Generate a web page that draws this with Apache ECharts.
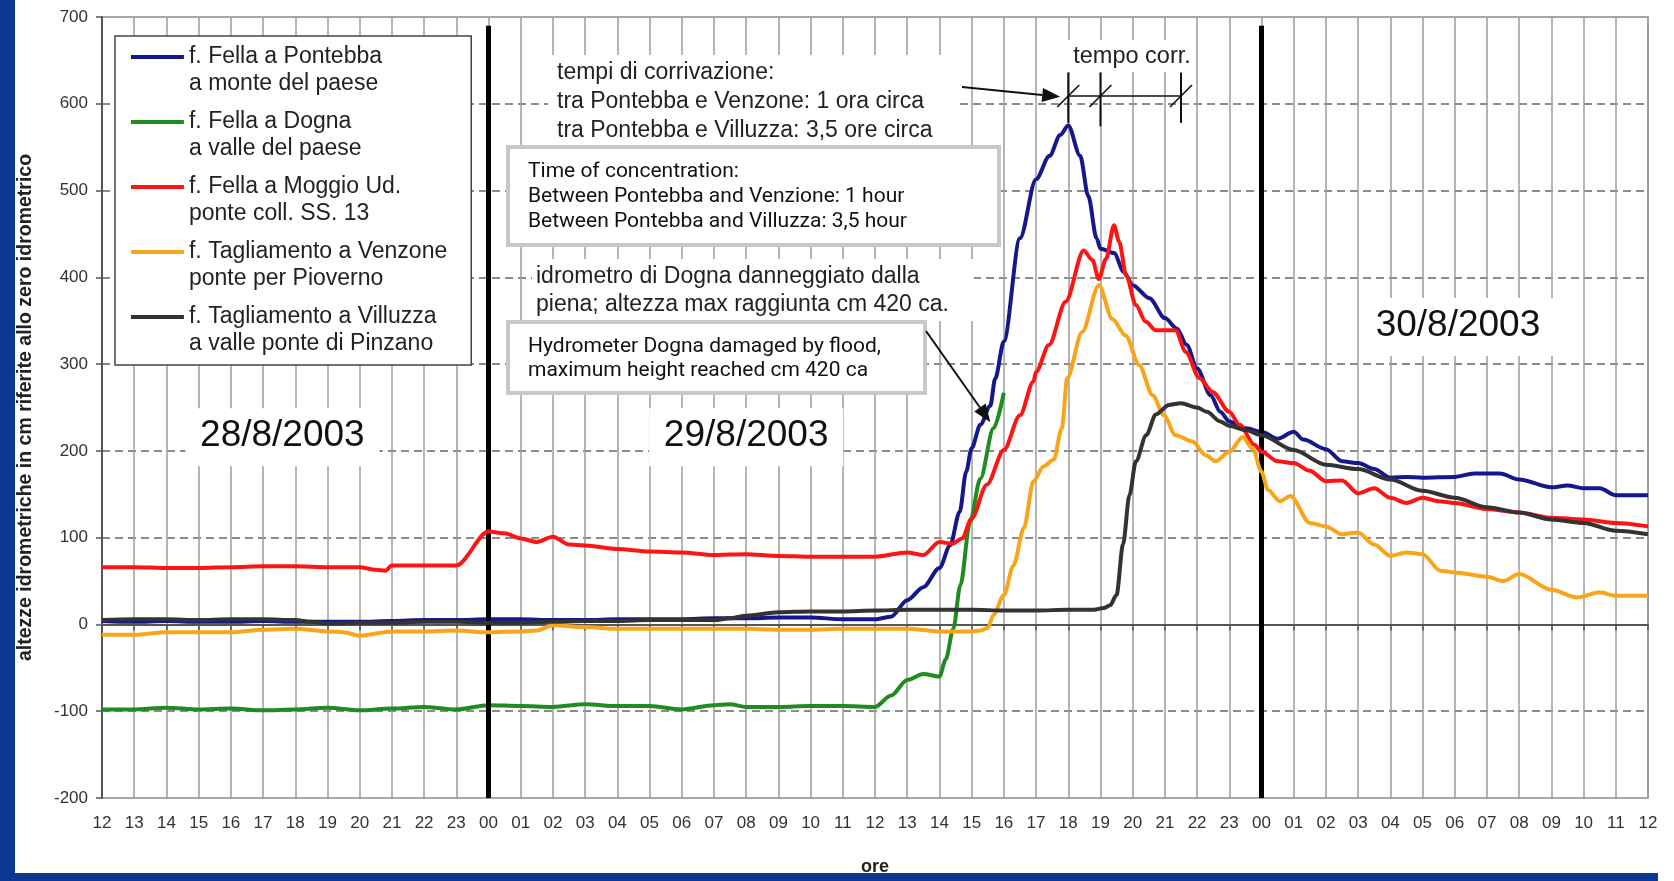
<!DOCTYPE html>
<html>
<head>
<meta charset="utf-8">
<script src="https://cdn.jsdelivr.net/npm/echarts@6/dist/echarts.min.js"></script>
<style>
html,body{margin:0;padding:0;background:#fff;}
#c{width:1674px;height:881px;}
</style>
</head>
<body>
<div id="c"></div>
<script>
// ---------- tick labels (hours, from 12:00 of 28/8 to 12:00 of 30/8) ----------
const hourLabels = ['12','13','14','15','16','17','18','19','20','21','22','23',
  '00','01','02','03','04','05','06','07','08','09','10','11',
  '12','13','14','15','16','17','18','19','20','21','22','23',
  '00','01','02','03','04','05','06','07','08','09','10','11','12'];

const seriesNames = [
  'f. Fella a Pontebba\na monte del paese',
  'f. Fella a Dogna\na valle del paese',
  'f. Fella a Moggio Ud.\nponte coll. SS. 13',
  'f. Tagliamento a Venzone\nponte per Pioverno',
  'f. Tagliamento a Villuzza\na valle ponte di Pinzano'
];

// ---------- series values: [hour since 12:00 28/8, height cm] ----------
const pontebba = [[0,4],[1,3],[2,4],[3,3],[4,3],[5,4],[6,3],[7,3],[8,3],[9,4],[10,5],[11,5],[12,6],[13,6],[14,5],[15,5],[16,6],[17,6],[18,6],[19,7],[20,7],[21,8],[22,8],[23,6],[24,6],[24.5,9],[25,28],[25.5,43],[26,65],[26.33,91],[26.63,130],[26.83,176],[27,203],[27.27,230],[27.58,252],[27.73,283],[28,326],[28.5,445],[29,513],[29.42,540],[29.75,564],[30,575],[30.37,540],[30.62,494],[30.88,445],[31,433],[31.42,428],[31.73,406],[32,391],[32.52,376],[33,353],[33.37,341],[33.68,322],[34,295],[34.42,264],[34.72,245],[35,234],[35.52,226],[36,222],[36.5,214],[37,222],[37.3,213],[38,202],[38.5,188],[39,186],[39.5,179],[40,169],[40.5,170],[41,169],[42,170],[42.6,174],[43.4,174],[44,167],[45,158],[45.5,160],[46,157],[46.5,157],[47,149],[48,149]];

const dogna = [[0,-98],[1,-98],[2,-96],[3,-98],[4,-97],[5,-99],[6,-98],[7,-96],[8,-99],[9,-97],[10,-95],[11,-98],[12,-93],[13,-94],[14,-95],[15,-92],[16,-94],[17,-94],[18,-98],[19,-93],[19.5,-92],[20,-95],[21,-95],[22,-94],[23,-94],[24,-95],[24.5,-82],[25,-64],[25.5,-57],[26,-60],[26.2,-40],[26.43,-5],[26.65,45],[26.95,118],[27.27,168],[27.68,226],[28,267]];

const moggio = [[0,66],[1,66],[2,65],[3,65],[4,66],[5,67],[6,67],[7,66],[8,66],[8.5,63],[8.8,62],[9,68],[10,68],[11,68],[12,107],[12.5,105],[13,99],[13.5,95],[14,101],[14.5,92],[15,91],[16,87],[17,84],[18,83],[19,80],[20,81],[21,79],[22,78],[23,78],[24,78],[25,83],[25.5,80],[26,95],[26.4,93],[26.7,99],[27,122],[27.47,161],[28,201],[28.5,241],[28.92,280],[29,291],[29.4,322],[29.92,372],[30.48,431],[30.75,420],[30.95,398],[31.17,421],[31.42,460],[31.58,441],[31.8,402],[32.1,368],[32.4,349],[32.72,339],[33,339],[33.33,339],[33.65,314],[34.07,284],[34.48,268],[35,245],[35.32,230],[35.78,207],[36,199],[36.5,188],[37,186],[37.5,177],[38,165],[38.5,166],[39,151],[39.5,157],[40,146],[40.5,140],[41,146],[41.5,142],[42,140],[43,133],[44,129],[45,123],[46,121],[47,117],[48,113]];

const venzone = [[0,-12],[1,-12],[2,-9],[3,-9],[4,-9],[5,-6],[6,-5],[7,-8],[7.5,-9],[8,-13],[9,-8],[10,-8],[11,-7],[12,-9],[13,-8],[13.5,-7],[14,-1],[15,-3],[16,-5],[17,-5],[18,-5],[19,-5],[20,-5],[21,-6],[22,-6],[23,-5],[24,-5],[25,-5],[26,-8],[27,-8],[27.27,-7],[27.5,-4],[27.68,11],[28,34],[28.3,68],[28.62,111],[28.92,165],[29.23,182],[29.55,190],[29.8,226],[29.97,284],[30.43,337],[30.95,391],[31.37,352],[31.78,333],[32.2,299],[32.62,264],[32.97,241],[33.33,218],[33.85,211],[34.27,195],[34.58,188],[35,199],[35.42,216],[35.72,203],[36,176],[36.2,155],[36.57,142],[36.9,148],[37.5,117],[38,113],[38.5,104],[39,106],[39.5,92],[40,79],[40.5,83],[41,81],[41.55,62],[42,60],[43,55],[43.5,50],[44,58],[45,40],[45.8,31],[46.5,37],[47,33],[48,33]];

const villuzza = [[0,5],[1,6],[2,6],[3,5],[4,6],[5,6],[6,5],[6.5,3],[7,1],[8,2],[9,2],[10,3],[11,3],[12,2],[13,2],[14,3],[15,4],[16,4],[17,5],[18,5],[19,5],[19.5,7],[20,10],[21,14],[22,15],[23,15],[24,16],[25,17],[26,17],[27,17],[28,16],[29,16],[30,17],[30.8,17],[31.1,19],[31.3,22],[31.5,34],[31.7,92],[31.9,149],[32.1,188],[32.42,218],[32.72,242],[33.13,253],[33.5,255],[34,250],[34.3,245],[34.72,234],[35,229],[35.5,224],[36,218],[37,201],[38,184],[39,179],[40,167],[41,154],[42,146],[43,135],[44,129],[45,121],[46,117],[47,108],[48,104]];

const dayBoundaries = [12, 36];
const dayLabels = ['28/8/2003', '29/8/2003', '30/8/2003'];

const colors = ['#15188c', '#1e8c1e', '#ff1414', '#f9a51a', '#333333'];
const allData = [pontebba, dogna, moggio, venzone, villuzza];

const FONT = '"Liberation Sans", Arial, sans-serif';
const chart = echarts.init(document.getElementById('c'), null, {renderer: 'canvas'});

const series = allData.map((d, i) => ({
  name: seriesNames[i],
  type: 'line',
  data: d,
  showSymbol: false,
  smooth: 0.3,
  smoothMonotone: 'x',
  lineStyle: {color: colors[i], width: 4},
  itemStyle: {color: colors[i]},
  z: 3 + i,
  animation: false
}));

series[0].markLine = {
  silent: true,
  symbol: ['none', 'none'],
  label: {show: false},
  lineStyle: {color: '#000', width: 5, type: 'solid'},
  data: dayBoundaries.map(h => [{coord: [h, 690]}, {coord: [h, -200]}])
};

chart.setOption({
  animation: false,
  backgroundColor: '#fff',
  grid: {left: 102, right: 26, top: 17, bottom: 81, show: true, borderColor: '#8a8a8a', borderWidth: 1.5},
  legend: {
    orient: 'vertical', left: 115, top: 36,
    padding: [7, 24, 8, 16],
    itemGap: 11, itemWidth: 53, itemHeight: 30,
    borderColor: '#444', borderWidth: 1.5, backgroundColor: '#fff',
    textStyle: {fontFamily: FONT, fontSize: 23, color: '#222', lineHeight: 27},
    data: seriesNames.map((n, i) => ({name: n, icon: 'path://M0,0H53V4H0Z M0,30H0.05V30.05H0Z'})),
    selectedMode: false
  },
  xAxis: {
    type: 'value', min: 0, max: 48, interval: 1,
    axisLine: {lineStyle: {color: '#555', width: 2}},
    axisTick: {show: true, length: 6, lineStyle: {color: '#555', width: 1.5}},
    axisLabel: {formatter: v => hourLabels[Math.round(v)], fontFamily: FONT, fontSize: 17, color: '#333', margin: 17},
    splitLine: {show: true, lineStyle: {color: '#9c9c9c', width: 1.5}},
    name: 'ore', nameLocation: 'middle', nameGap: 60,
    nameTextStyle: {fontFamily: FONT, fontWeight: 'bold', fontSize: 18, color: '#222'}
  },
  yAxis: {
    type: 'value', min: -200, max: 700, interval: 100,
    axisLine: {show: true, lineStyle: {color: '#555', width: 2}},
    axisTick: {show: true, length: 6, lineStyle: {color: '#555', width: 1.5}},
    axisLabel: {fontFamily: FONT, fontSize: 17, color: '#333', margin: 14},
    splitLine: {show: true, showMinLine: false, showMaxLine: false, lineStyle: {color: '#666', width: 1.5, type: [8, 5]}},
    name: 'altezze idrometriche in cm riferite allo zero idrometrico',
    nameLocation: 'middle', nameRotate: 90, nameGap: 66,
    nameTextStyle: {fontFamily: FONT, fontWeight: 'bold', fontSize: 19.5, color: '#222'}
  },
  series: series
});

// ---------- annotations ----------
const P = (h, v) => chart.convertToPixel({gridIndex: 0}, [h, v]);

function arrow(from, to, len, half) {
  const dx = to[0] - from[0], dy = to[1] - from[1];
  const L = Math.sqrt(dx * dx + dy * dy);
  const ux = dx / L, uy = dy / L;
  const bx = to[0] - ux * len, by = to[1] - uy * len;
  return [
    {type: 'line', shape: {x1: from[0], y1: from[1], x2: bx, y2: by}, style: {stroke: '#111', lineWidth: 2}, z: 100},
    {type: 'polygon', shape: {points: [[to[0], to[1]], [bx - uy * half, by + ux * half], [bx + uy * half, by - ux * half]]}, style: {fill: '#111'}, z: 100}
  ];
}
function txt(x, y, s, font, fill, align) {
  return {type: 'text', x: x, y: y, style: {text: s, font: font, fill: fill || '#222', align: align || 'left', verticalAlign: 'middle'}, z: 101};
}
function whiteRect(x, y, w, h) {
  return {type: 'rect', shape: {x: x, y: y, width: w, height: h}, style: {fill: '#fff'}, z: 95};
}

const g = [];
// frame
g.push({type: 'rect', shape: {x: 0, y: 0, width: 15, height: 881}, style: {fill: '#0c3891'}, z: 1});
g.push({type: 'rect', shape: {x: 0, y: 873, width: 1658, height: 8}, style: {fill: '#0c3891'}, z: 1});

// day labels (anchored in data space)
const dayPos = [[5.6, 217], [20.0, 217], [42.1, 344]];
dayLabels.forEach((s, i) => {
  const p = P(dayPos[i][0], dayPos[i][1]);
  g.push(whiteRect(p[0] - 97, p[1] - 28, 194, 58));
  g.push(txt(p[0], p[1], s, '37px ' + FONT, '#111', 'center'));
});

// italian annotation block 1
const itFont = '23px ' + FONT;
g.push(whiteRect(548, 55, 412, 90));
g.push(txt(557, 73, 'tempi di corrivazione:', itFont));
g.push(txt(557, 102, 'tra Pontebba e Venzone: 1 ora circa', itFont));
g.push(txt(557, 131, 'tra Pontebba e Villuzza: 3,5 ore circa', itFont));

// english box 1
const enFont = '21px Roboto, sans-serif';
g.push({type: 'rect', shape: {x: 508, y: 147, width: 491, height: 98}, style: {fill: '#fff', stroke: '#c8c8c8', lineWidth: 4}, z: 96});
g.push(txt(528, 172, 'Time of concentration:', enFont, '#111'));
g.push(txt(528, 197, 'Between Pontebba and Venzione: 1 hour', enFont, '#111'));
g.push(txt(528, 222, 'Between Pontebba and Villuzza: 3,5 hour', enFont, '#111'));

// italian annotation block 2
g.push(whiteRect(532, 259, 442, 62));
g.push(txt(536, 277, 'idrometro di Dogna danneggiato dalla', itFont));
g.push(txt(536, 305, 'piena; altezza max raggiunta cm 420 ca.', itFont));

// english box 2
g.push({type: 'rect', shape: {x: 508, y: 322, width: 417, height: 71}, style: {fill: '#fff', stroke: '#c8c8c8', lineWidth: 4}, z: 96});
g.push(txt(528, 347, 'Hydrometer Dogna damaged by flood,', enFont, '#111'));
g.push(txt(528, 371, 'maximum height reached cm 420 ca', enFont, '#111'));

// arrows
arrow([926, 331], P(27.58, 233), 18, 7).forEach(e => g.push(e));
arrow([962, 87], P(29.75, 608), 18, 7).forEach(e => g.push(e));

// tempo corr. dimension
g.push(whiteRect(1066, 40, 130, 32));
g.push(txt(1132, 57, 'tempo corr.', '23.5px ' + FONT, '#222', 'center'));
const dimHours = [30, 31, 33.5];
const yTop = P(30, 636)[1], yMid = P(30, 609)[1];
const dimBottoms = [578, 574, 578];
dimHours.forEach((h, i) => {
  const x = P(h, 0)[0];
  const yb = P(h, dimBottoms[i])[1];
  g.push({type: 'line', shape: {x1: x, y1: yTop, x2: x, y2: yb}, style: {stroke: '#111', lineWidth: 2}, z: 100});
  g.push({type: 'line', shape: {x1: x - 11, y1: yMid + 11, x2: x + 11, y2: yMid - 11}, style: {stroke: '#111', lineWidth: 1.6}, z: 100});
});
g.push({type: 'line', shape: {x1: P(30, 0)[0], y1: yMid, x2: P(33.5, 0)[0], y2: yMid}, style: {stroke: '#111', lineWidth: 1.6}, z: 100});

chart.setOption({graphic: {elements: g}});
</script>
</body>
</html>
